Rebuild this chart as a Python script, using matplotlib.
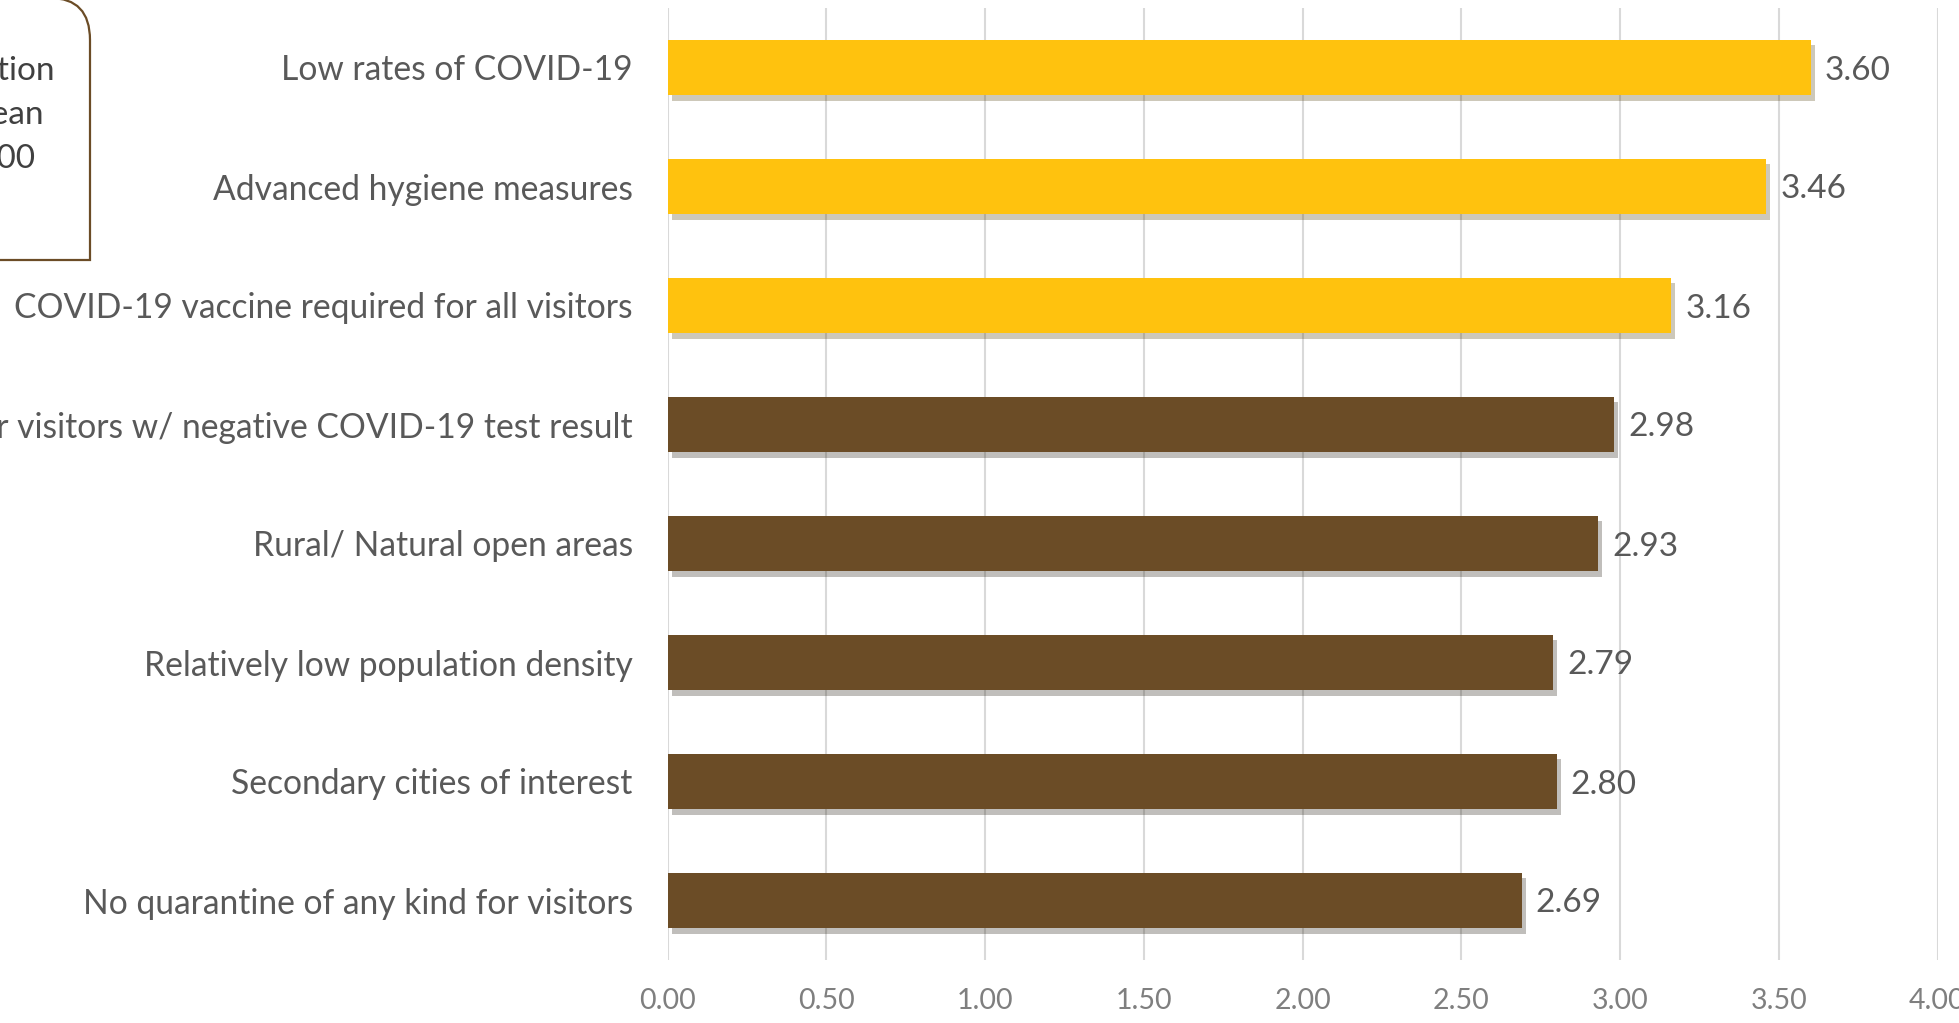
import matplotlib.pyplot as plt
import matplotlib.patheffects as pe
from matplotlib.path import Path
from matplotlib.patches import PathPatch

plt.rcParams['font.family'] = ['Lato', 'DejaVu Sans']

# mean importance rating per destination attribute (top to bottom)
labels = [
    "Low rates of COVID-19",
    "Advanced hygiene measures",
    "COVID-19 vaccine required for all visitors",
    "No quarantine for visitors w/ negative COVID-19 test result",
    "Rural/ Natural open areas",
    "Relatively low population density",
    "Secondary cities of interest",
    "No quarantine of any kind for visitors",
]
means = [3.60, 3.46, 3.16, 2.98, 2.93, 2.79, 2.80, 2.69]
above_mid = [True, True, True, False, False, False, False, False]
xticks = [0.0, 0.5, 1.0, 1.5, 2.0, 2.5, 3.0, 3.5, 4.0]

YELLOW = "#FFC20E"
BROWN = "#6B4C26"
W, H = 1959, 1023

fig = plt.figure(figsize=(W / 100, H / 100), dpi=100)
ax = fig.add_axes([667.5 / W, 1 - 960 / H, 1270 / W, 952 / H])

ypos = list(range(len(labels)))
colors = [YELLOW if a else BROWN for a in above_mid]
bars = ax.barh(ypos, means, height=0.47, color=colors, zorder=3)
for b in bars:
    b.set_path_effects([pe.SimplePatchShadow(offset=(3, -4), alpha=0.28, rho=0.3), pe.Normal()])

for y, v in zip(ypos, means):
    ax.text(v + 0.045, y, f"{v:.2f}", va="center_baseline", ha="left",
            fontsize=24, color="#595959")

ax.set_xlim(0, 4)
ax.set_ylim(len(labels) - 0.5, -0.5)
ax.set_xticks(xticks)
ax.set_xticklabels([f"{t:.2f}" for t in xticks], fontsize=20.5, color="#7F7F7F")
ax.set_yticks(ypos)
ax.set_yticklabels(labels, fontsize=24.2, color="#595959")
ax.tick_params(axis="y", length=0, pad=25)
ax.tick_params(axis="x", length=0, pad=20)
ax.xaxis.grid(True, color="#D9D9D9", linewidth=1.5, zorder=0)
for s in ax.spines.values():
    s.set_visible(False)

# note box with a single rounded corner at the top right
def fp(px, py):
    return (px / W, 1 - py / H)

verts = [fp(-300, 260), fp(90, 260), fp(90, 40), fp(90, -2), fp(50, -2),
         fp(-300, -2), fp(-300, 260)]
codes = [Path.MOVETO, Path.LINETO, Path.LINETO, Path.CURVE3, Path.CURVE3,
         Path.LINETO, Path.CLOSEPOLY]
fig.patches.append(PathPatch(Path(verts, codes), transform=fig.transFigure,
                             facecolor="white", edgecolor=BROWN, linewidth=1.6))
fig.text(*fp(-64, 115), "Neutral position\non scale: mean\nrating of 3.00",
         ha="center", va="center", fontsize=24, color="#404040",
         linespacing=1.6)

fig.savefig("out.png", dpi=100)
